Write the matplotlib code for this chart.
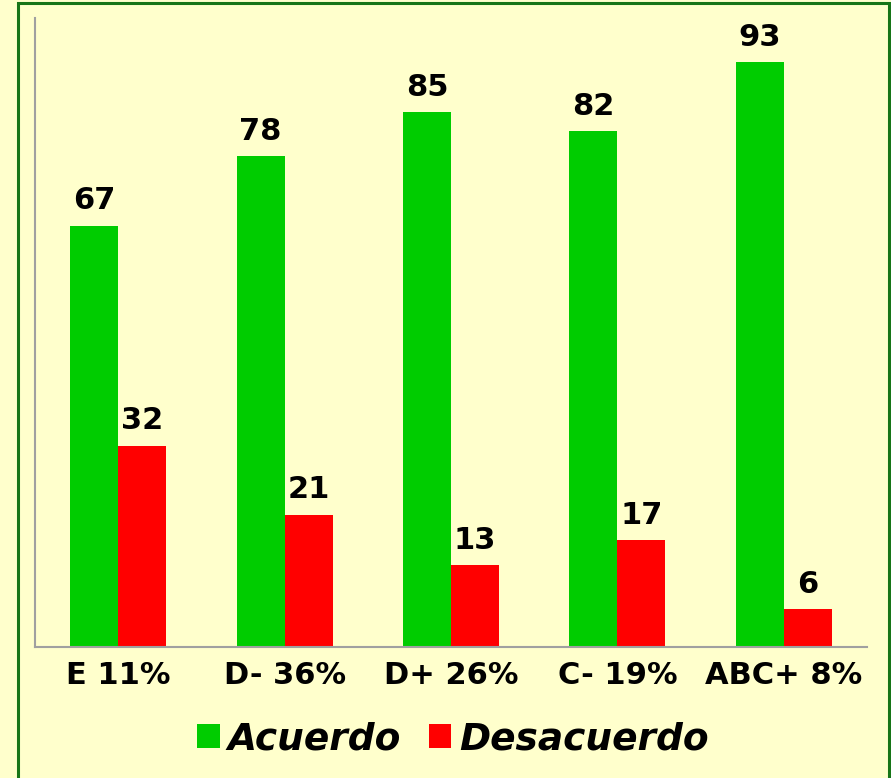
import matplotlib.pyplot as plt
import matplotlib.patches as mpatches
import numpy as np

categories = ["E 11%", "D- 36%", "D+ 26%", "C- 19%", "ABC+ 8%"]
acuerdo = [67, 78, 85, 82, 93]
desacuerdo = [32, 21, 13, 17, 6]

bg = "#FFFFCC"
green = "#00CC00"
red = "#FF0000"

fig = plt.figure(figsize=(8.91, 7.78), dpi=100, facecolor=bg)
ax = fig.add_axes([35 / 891, 1 - 647 / 778, 832 / 891, 629 / 778])
ax.set_facecolor(bg)

# outer green frame
fig.patches.append(mpatches.Rectangle((17.5 / 891, -0.01), 871 / 891, 1.01 - 2.5 / 778,
                                      transform=fig.transFigure, fill=False,
                                      edgecolor="#177517", linewidth=2.2, zorder=0))

x = np.arange(len(categories))
w = 0.288
b1 = ax.bar(x - w / 2, acuerdo, w, color=green, label="Acuerdo")
b2 = ax.bar(x + w / 2, desacuerdo, w, color=red, label="Desacuerdo")

for bars in (b1, b2):
    ax.bar_label(bars, padding=7.5, fontsize=22, fontweight="bold")

ax.set_xlim(-0.5, len(categories) - 0.5)
ax.set_ylim(0, 100)
ax.set_yticks([])
ax.set_xticks(x)
ax.set_xticklabels(categories, fontsize=22, fontweight="bold")
ax.tick_params(axis="x", length=0, pad=10)

for s in ("top", "right"):
    ax.spines[s].set_visible(False)
for s in ("left", "bottom"):
    ax.spines[s].set_color("#A0A0A0")
    ax.spines[s].set_linewidth(1.5)

fig.legend(loc="center", bbox_to_anchor=(453 / 891, 1 - 739 / 778), ncol=2,
           frameon=False, prop={"size": 27, "weight": "bold", "style": "italic"},
           handlelength=0.6, handleheight=0.6, handletextpad=0.2, columnspacing=0.75)

fig.savefig("out.png", dpi=100, facecolor=bg)
